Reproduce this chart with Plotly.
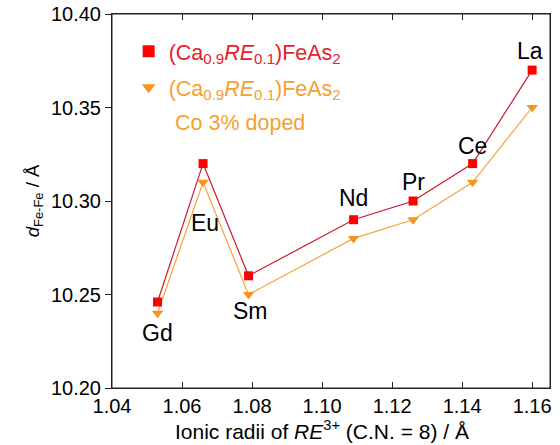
import plotly.graph_objects as go

elements = ["Gd", "Eu", "Sm", "Nd", "Pr", "Ce", "La"]
ionic_radii = [1.053, 1.066, 1.079, 1.109, 1.126, 1.143, 1.160]
d_undoped = [10.246, 10.320, 10.260, 10.290, 10.300, 10.320, 10.370]
d_co_doped = [10.240, 10.310, 10.250, 10.280, 10.290, 10.310, 10.350]

label_shift_y = [-31, -59, -35, 22, 19, 18, 19]
label_shift_x = [0, 2, 2, 0, 0, 0, -2]

RED = "#ff0000"
RED_LINE = "#d0182e"
ORANGE = "#f7941d"
ORANGE_LINE = "#f5a33a"
RED_TEXT = "#e8202a"
ORANGE_TEXT = "#f5a030"
FONT = "Liberation Sans, Arial, sans-serif"
AX = "#222"

fig = go.Figure()

fig.add_trace(go.Scatter(
    x=ionic_radii, y=d_co_doped, mode="lines+markers",
    line=dict(color=ORANGE_LINE, width=1.2),
    marker=dict(symbol="triangle-down", size=10, color=ORANGE),
    showlegend=False))
fig.add_trace(go.Scatter(
    x=ionic_radii, y=d_undoped, mode="lines+markers",
    line=dict(color=RED_LINE, width=1.2),
    marker=dict(symbol="square", size=9, color=RED),
    showlegend=False))

# legend-only entries
fig.add_trace(go.Scatter(
    x=[None], y=[None], mode="markers", legendgroup="a",
    marker=dict(symbol="square", size=9, color=RED),
    name=f"<span style='color:{RED_TEXT}'>(Ca<sub>0.9</sub><i>RE</i><sub>0.1</sub>)FeAs<sub>2</sub></span>"))
fig.add_trace(go.Scatter(
    x=[None], y=[None], mode="markers", legendgroup="b",
    marker=dict(symbol="triangle-down", size=10, color=ORANGE),
    name=f"<span style='color:{ORANGE_TEXT}'>(Ca<sub>0.9</sub><i>RE</i><sub>0.1</sub>)FeAs<sub>2</sub></span>"))

fig.add_annotation(xref="paper", yref="paper", x=0.139, y=0.7086,
                   xanchor="left", yanchor="middle", showarrow=False,
                   text="Co 3% doped",
                   font=dict(size=21.5, color=ORANGE_TEXT, family=FONT))

for el, xr, yr, dy, dx in zip(elements, ionic_radii, d_undoped, label_shift_y, label_shift_x):
    fig.add_annotation(x=xr, y=yr, text=el, showarrow=False,
                       yshift=dy, xshift=dx,
                       font=dict(size=23, color="black", family=FONT))

# x-axis title
fig.add_annotation(xref="paper", yref="paper", x=0.479, y=-0.113,
                   xanchor="center", yanchor="middle", showarrow=False,
                   text="Ionic radii of <i>RE</i><sup>3+</sup> (C.N. = 8) / Å",
                   font=dict(size=21, color="black", family=FONT))

# plot frame
fig.add_shape(type="rect", xref="paper", yref="paper", x0=0, x1=1, y0=0, y1=1,
              line=dict(color=AX, width=1), fillcolor="rgba(0,0,0,0)", layer="above")

fig.update_layout(
    width=560, height=445,
    margin=dict(l=112, r=10, t=14, b=57),
    paper_bgcolor="white", plot_bgcolor="white",
    font=dict(family=FONT, color="black"),
    legend=dict(x=0.038, y=0.955, xanchor="left", yanchor="top",
                bgcolor="rgba(0,0,0,0)", font=dict(size=21.5, family=FONT),
                valign="middle", tracegroupgap=5, itemsizing="constant"),
    xaxis=dict(range=[1.04, 1.1651], tick0=1.04, dtick=0.02, tickformat=".2f",
               ticks="inside", ticklen=6, tickcolor=AX, showline=True,
               linecolor=AX, linewidth=1, mirror="ticks", showgrid=False,
               zeroline=False, tickfont=dict(size=20), automargin=False),
    yaxis=dict(range=[10.20, 10.40], tick0=10.20, dtick=0.05, tickformat=".2f",
               ticks="outside", ticklen=6, tickcolor=AX, showline=True,
               linecolor=AX, linewidth=1, mirror=True, showgrid=False,
               zeroline=False, tickfont=dict(size=20), automargin=False,
               title=dict(text="<i>d</i><sub>Fe-Fe</sub> / Å", font=dict(size=18.5),
                          standoff=6)),
    yaxis2=dict(range=[10.20, 10.40], tick0=10.20, dtick=0.05, overlaying="y",
                side="right", ticks="inside", ticklen=6, tickcolor=AX,
                showticklabels=False, showline=True, linecolor=AX,
                linewidth=1, showgrid=False, zeroline=False, automargin=False),
)

fig.write_html("out.html", config={"displayModeBar": False},
               post_script="document.body.style.margin='0';document.body.style.overflow='hidden';")
